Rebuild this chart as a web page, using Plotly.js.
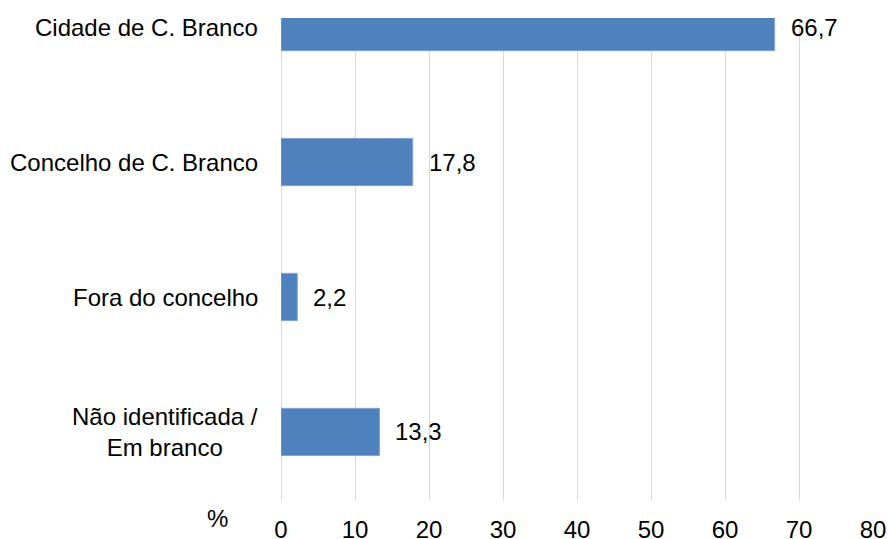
<!DOCTYPE html>
<html>
<head>
<meta charset="utf-8">
<script src="https://cdn.plot.ly/plotly-3.0.1.min.js"></script>
<style>html,body{margin:0;padding:0;background:#fff;}#chart{width:888px;height:539px;}</style>
</head>
<body>
<div id="chart"></div>
<script>
const categories = ['Cidade de C. Branco', 'Concelho de C. Branco', 'Fora do concelho', 'Não identificada /<br>Em branco'];
const values = [66.7, 17.8, 2.2, 13.3];
const valueLabels = ['66,7', '17,8', '2,2', '13,3'];
const xTickVals = [0, 10, 20, 30, 40, 50, 60, 70, 80];
const xTickText = ['0', '10', '20', '30', '40', '50', '60', '70', '80'];
const unitLabel = '%';

const FONT = '"Liberation Sans", Arial, sans-serif';

const trace = {
  type: 'bar',
  orientation: 'h',
  x: values,
  y: categories,
  width: 0.35,
  marker: {color: '#4F81BD', line: {color: '#7FA3D1', width: 1}},
  hoverinfo: 'none'
};

const annotations = [];
categories.forEach((c, i) => {
  annotations.push({
    xref: 'paper', yref: 'y', x: 0, y: c, xanchor: 'right', yanchor: 'middle',
    xshift: -21, text: c, showarrow: false, align: 'center',
    font: {family: FONT, size: 24, color: '#000'}
  });
  annotations.push({
    xref: 'x', yref: 'y', x: values[i], y: c, xanchor: 'left', yanchor: 'middle',
    xshift: 14, text: valueLabels[i], showarrow: false,
    font: {family: FONT, size: 24, color: '#000'}
  });
});
annotations.push({
  xref: 'paper', yref: 'paper', x: 0, y: 0, xanchor: 'center', yanchor: 'top',
  xshift: -64, yshift: -3, text: unitLabel, showarrow: false,
  font: {family: FONT, size: 24, color: '#000'}
});

const layout = {
  width: 888, height: 539,
  margin: {l: 281, r: 15, t: 18, b: 39},
  paper_bgcolor: '#fff', plot_bgcolor: '#fff',
  showlegend: false,
  xaxis: {
    range: [0, 80], tickvals: xTickVals, ticktext: xTickText,
    showgrid: true, gridcolor: '#D9D9D9', gridwidth: 1,
    zeroline: true, zerolinecolor: '#D9D9D9', zerolinewidth: 1,
    showline: false, ticks: 'outside', ticklen: 8, tickcolor: 'rgba(0,0,0,0)',
    tickfont: {family: FONT, size: 24, color: '#000'}, fixedrange: true
  },
  yaxis: {
    type: 'category', range: [3.504, -0.067], showticklabels: false,
    showgrid: false, zeroline: false, showline: false, ticks: '', fixedrange: true
  },
  annotations: annotations
};

Plotly.newPlot('chart', [trace], layout, {displayModeBar: false, staticPlot: true});
</script>
</body>
</html>
